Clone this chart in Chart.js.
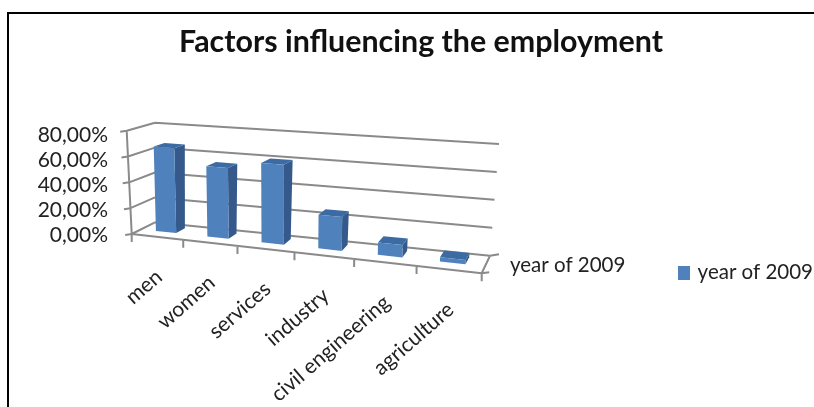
<!DOCTYPE html>
<html>
<head>
<meta charset="utf-8">
<title>Factors influencing the employment</title>
<script src="https://cdn.jsdelivr.net/npm/chart.js@4"></script>
<style>
    html, body { margin: 0; padding: 0; background: #fff; overflow: hidden; }
    #frame { position: absolute; left: 7px; top: 12px; right: 0; bottom: 0; border-left: 2px solid #000; border-top: 2px solid #000; }
    canvas { position: absolute; left: 0; top: 0; }
</style>
</head>
<body>
<div id="frame"></div>
<canvas id="employmentChart" width="814" height="407"></canvas>
<script>
const categories = ['men', 'women', 'services', 'industry', 'civil engineering', 'agriculture'];
const seriesName = 'year of 2009';
const shareValues = [66, 54, 60, 25, 9, 3];
const chartTitle = 'Factors influencing the employment';

const FONT = 'Lato, Carlito, sans-serif';
const LINE = '#8a8a8a';
const FRONT = '#4f81bd';
const SIDE = '#34598a';
const TOP = '#3c6aa3';

// corners of the 3D box on screen: [width axis][height axis], front and back walls
const BOX = {
    front: { lb: [131.7, 234], lt: [126.7, 130.7], rb: [481.7, 273.3], rt: [483, 159] },
    back: { lb: [155, 222.3], lt: [155, 122.7], rb: [490, 255.7], rt: [499, 144] }
};
const BAR_DEPTH = [0.4, 0.8];
const SPREAD = 0.14;

function mix(a, b, k) {
    return [a[0] + (b[0] - a[0]) * k, a[1] + (b[1] - a[1]) * k];
}

// maps a pixel of the flat chart area plus a depth (0 front, 1 back) into the box
function project(chart, px, py, depth) {
    const area = chart.chartArea;
    let s = (px - area.left) / (area.right - area.left);
    const t = (area.bottom - py) / (area.bottom - area.top);
    s = s * (1 - SPREAD) + SPREAD * s * s;
    const wall = function(w) {
        return mix(mix(w.lb, w.rb, s), mix(w.lt, w.rt, s), t);
    };
    return mix(wall(BOX.front), wall(BOX.back), depth);
}

function face(ctx, points, color) {
    ctx.beginPath();
    ctx.moveTo(points[0][0], points[0][1]);
    for (let i = 1; i < points.length; i++) ctx.lineTo(points[i][0], points[i][1]);
    ctx.closePath();
    ctx.fillStyle = color;
    ctx.fill();
}

function segment(ctx, a, b) {
    ctx.moveTo(a[0], a[1]);
    ctx.lineTo(b[0], b[1]);
}

// bar controller that draws each bar as a box instead of a flat rectangle
class Box3dController extends Chart.BarController {
    draw() {
        const chart = this.chart;
        const ctx = chart.ctx;
        this._cachedMeta.data.forEach(function(bar) {
            const l = bar.x - bar.width / 2;
            const r = bar.x + bar.width / 2;
            const d0 = BAR_DEPTH[0];
            const d1 = BAR_DEPTH[1];
            const p = function(x, y, d) { return project(chart, x, y, d); };
            face(ctx, [p(r, bar.y, d0), p(r, bar.y, d1), p(r, bar.base, d1), p(r, bar.base, d0)], SIDE);
            face(ctx, [p(l, bar.y, d0), p(l, bar.y, d1), p(r, bar.y, d1), p(r, bar.y, d0)], TOP);
            face(ctx, [p(l, bar.y, d0), p(r, bar.y, d0), p(r, bar.base, d0), p(l, bar.base, d0)], FRONT);
        });
    }
}
Box3dController.id = 'box3d';
Box3dController.defaults = Chart.BarController.defaults;
Box3dController.overrides = Chart.BarController.overrides;
Chart.register(Box3dController);

// legend swatch, a canvas so it can sit closer to the text than a normal box
const swatch = document.createElement('canvas');
swatch.width = 12;
swatch.height = 14;
swatch.getContext('2d').fillStyle = FRONT;
swatch.getContext('2d').fillRect(0, 0, 12, 14);

const boxFrame = {
    id: 'boxFrame',
    afterLayout(chart) {
        // the legend sits beside the depth axis, not in the middle of the chart
        const legend = chart.legend;
        const h = legend.bottom - legend.top;
        const w = legend.right - legend.left;
        legend.top = 155;
        legend.bottom = 155 + h;
        legend.left = 814 - w + 9;
        legend.right = 814 + 9;
    },
    beforeDatasetsDraw(chart) {
        const ctx = chart.ctx;
        const x = chart.scales.x;
        const y = chart.scales.y;
        const left = chart.chartArea.left;
        const right = chart.chartArea.right;
        const bottom = chart.chartArea.bottom;
        ctx.save();
        ctx.strokeStyle = LINE;
        ctx.lineWidth = 2;
        ctx.beginPath();
        y.ticks.forEach(function(tick) {
            const py = y.getPixelForValue(tick.value);
            const front = project(chart, left, py, 0);
            const back = project(chart, left, py, 1);
            segment(ctx, [front[0] - 6.5, front[1] + 1], front);
            segment(ctx, front, back);
            segment(ctx, back, project(chart, right, py, 1));
        });
        segment(ctx, project(chart, left, y.top, 0), project(chart, left, y.bottom, 0));
        // floor edges and ticks
        const frontRight = project(chart, right, bottom, 0);
        const backRight = project(chart, right, bottom, 1);
        segment(ctx, project(chart, left, bottom, 0), frontRight);
        segment(ctx, frontRight, backRight);
        segment(ctx, frontRight, [frontRight[0] + 7.5, frontRight[1] - 1]);
        segment(ctx, backRight, [backRight[0] + 9, backRight[1] - 1.5]);
        for (let i = 0; i <= categories.length; i++) {
            const at = project(chart, x.getPixelForValue(i - 0.5), bottom, 0);
            segment(ctx, at, [at[0], at[1] + 8]);
        }
        ctx.stroke();
        ctx.restore();
    },
    afterDraw(chart) {
        const ctx = chart.ctx;
        const x = chart.scales.x;
        const bottom = chart.chartArea.bottom;
        ctx.save();
        ctx.fillStyle = '#222';
        ctx.font = '21px ' + FONT;
        categories.forEach(function(name, i) {
            const at = project(chart, x.getPixelForValue(i), bottom, 0);
            ctx.save();
            ctx.translate(at[0] + 2, at[1] + 37);
            ctx.rotate(-41 * Math.PI / 180);
            ctx.textAlign = 'right';
            ctx.textBaseline = 'middle';
            ctx.fillText(name, 0, 0);
            ctx.restore();
        });
        // depth axis label
        ctx.font = '20.5px ' + FONT;
        ctx.textAlign = 'left';
        ctx.textBaseline = 'middle';
        ctx.fillText(seriesName, 510, 265);
        ctx.restore();
    }
};

new Chart(document.getElementById('employmentChart').getContext('2d'), {
    type: 'box3d',
    data: {
        labels: categories,
        datasets: [{
            label: seriesName,
            data: shareValues,
            backgroundColor: FRONT,
            borderWidth: 0,
            barPercentage: 0.4,
            categoryPercentage: 1,
            clip: false
        }]
    },
    options: {
        responsive: false,
        animation: false,
        layout: { padding: { left: 28, right: 0, top: 0, bottom: 171.3 } },
        plugins: {
            title: {
                display: true,
                text: chartTitle,
                color: '#111',
                font: { family: FONT, size: 30.4, weight: 'bold' },
                padding: { top: 24, bottom: 74.5 }
            },
            legend: {
                display: true,
                position: 'right',
                labels: {
                    color: '#222',
                    font: { family: FONT, size: 20.5 },
                    usePointStyle: true,
                    pointStyle: swatch,
                    pointStyleWidth: 7,
                    padding: 5
                }
            },
            tooltip: { enabled: false }
        },
        scales: {
            x: { display: false, offset: true },
            y: {
                min: 0,
                max: 80,
                afterFit(scale) { scale.width = 103.7; },
                grid: { display: false },
                border: { display: false },
                ticks: {
                    stepSize: 20,
                    autoSkip: false,
                    color: '#222',
                    padding: 15.7,
                    font: { family: FONT, size: 21 },
                    callback: function(value) { return value.toFixed(2).replace('.', ',') + '%'; }
                }
            }
        }
    },
    plugins: [boxFrame]
});
</script>
</body>
</html>
